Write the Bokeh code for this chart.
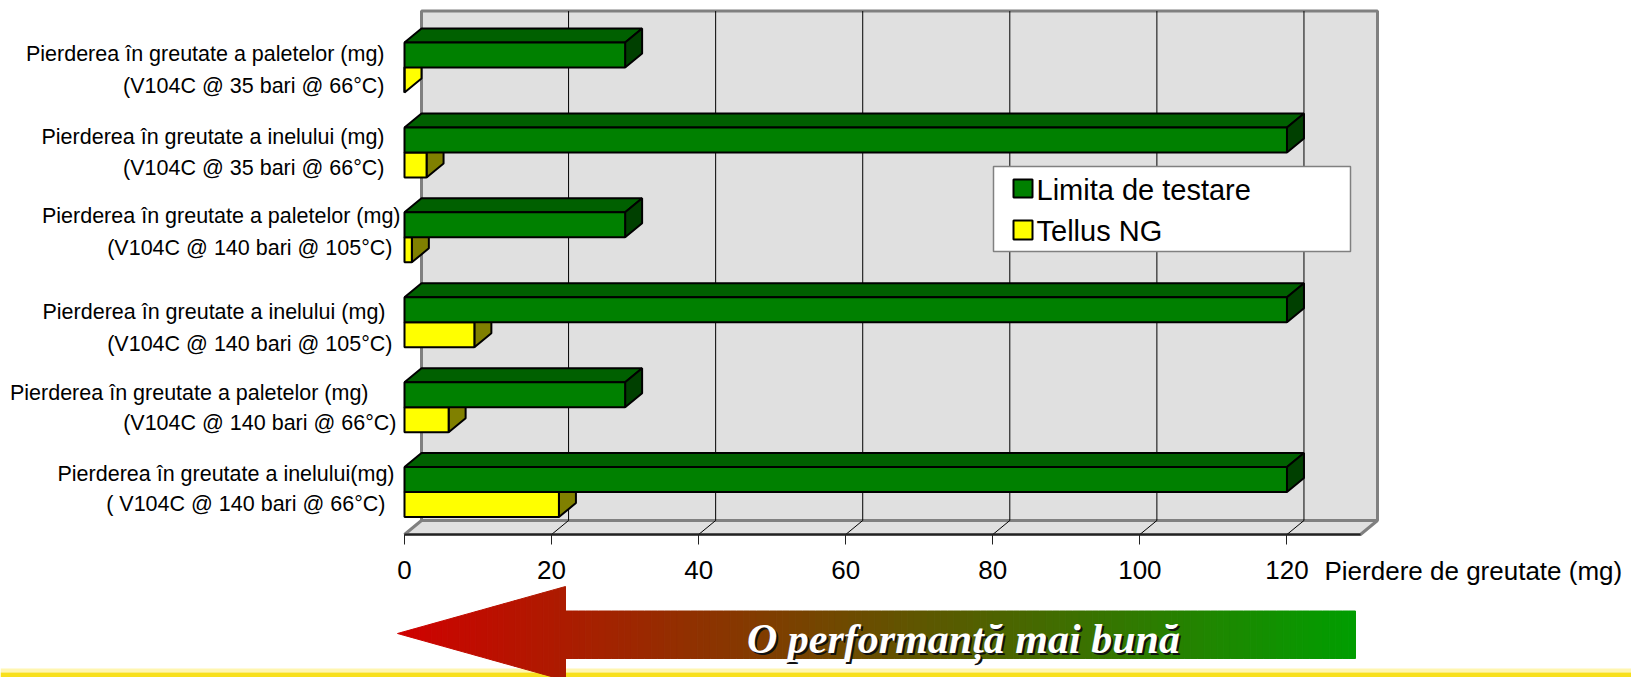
import numpy as np
from bokeh.plotting import figure
from bokeh.models import Range1d, FixedTicker
from bokeh.embed import file_html
from bokeh.resources import INLINE
from bokeh.core.properties import value

# ---------------- data ----------------
label_line1 = [
    "Pierderea în greutate a paletelor (mg)",
    "Pierderea în greutate a inelului (mg)",
    "Pierderea în greutate a paletelor (mg)",
    "Pierderea în greutate a inelului (mg)",
    "Pierderea în greutate a paletelor (mg)",
    "Pierderea în greutate a inelului(mg)",
]
label_line2 = [
    "(V104C @ 35 bari @ 66°C)",
    "(V104C @ 35 bari @ 66°C)",
    "(V104C @ 140 bari @ 105°C)",
    "(V104C @ 140 bari @ 105°C)",
    "(V104C @ 140 bari @ 66°C)",
    "( V104C @ 140 bari @ 66°C)",
]
limita = [30, 120, 30, 120, 30, 120]
tellus = [0, 3, 1, 9.5, 6, 21]
series_names = ["Limita de testare", "Tellus NG"]
x_ticks = [0, 20, 40, 60, 80, 100, 120]
x_max = 130
x_axis_title = "Pierdere de greutate (mg)"
arrow_text = "O performanță mai bună"

# ---------------- layout (pixels on the page) ----------------
W, H = 1631, 677
X0, X130, XR = 404, 1360, 1377      # x=0, x=130 front, wall right
YB = 534                             # front axis (y=0)
PPX = (X130 - X0) / x_max
PPY = 84.9
DXu = (XR - X130) / PPX
DYu = 14 / PPY
BH = 25 / PPY

def dx(X):
    return (X - X0) / PPX

def dy(Y):
    return (YB - Y) / PPY

# label layout tweaks (pixel offsets from category centre / right edges)
l1_off = [-14, -15, -21, -10, -14, -18]
l2_off = [18, 16, 11, 22, 16, 12]
l1_right = [384, 384, 400, 385, 368, 394]
l2_right = [384, 384, 392, 392, 396, 385]

FONT = "Liberation Sans"

p = figure(width=W, height=H, x_range=Range1d(dx(0), dx(W)), y_range=Range1d(dy(H), dy(0)),
           output_backend="svg", toolbar_location=None, title=None,
           min_border=0, min_border_left=0, min_border_right=0,
           min_border_top=0, min_border_bottom=0)
p.outline_line_color = None
p.grid.visible = False
p.yaxis.visible = False

ax = p.xaxis[0]
ax.fixed_location = 0
ax.ticker = FixedTicker(ticks=x_ticks)
ax.bounds = (0, x_max)
ax.axis_line_color = "#222222"
ax.axis_line_width = 2
ax.major_tick_out = 10
ax.major_tick_in = 0
ax.major_tick_line_color = "#222222"
ax.minor_tick_line_color = None
ax.major_label_text_font = FONT
ax.major_label_text_font_size = "26px"
ax.major_label_text_color = "black"
ax.major_label_standoff = 16

# bottom yellow band
p.quad(left=[dx(0)] * 2, right=[dx(W)] * 2, top=[dy(668), dy(672)], bottom=[dy(672), dy(H + 2)],
       fill_color=["#FFF6B0", "#F8E01C"], line_color=None)

# wall and floor
p.patch([DXu, x_max + DXu, x_max + DXu, DXu], [DYu, DYu, 6 + DYu, 6 + DYu],
        fill_color="#E0E0E0", line_color="#808080", line_width=3)
p.patch([0, x_max, x_max + DXu, DXu], [0, 0, DYu, DYu],
        fill_color="#E0E0E0", line_color="#808080", line_width=3)
gx = [t + DXu for t in x_ticks[1:]]
p.segment(x0=gx, y0=[DYu] * len(gx), x1=gx, y1=[6 + DYu] * len(gx),
          line_color="black", line_width=1)
p.segment(x0=x_ticks[1:], y0=[0] * len(gx), x1=gx, y1=[DYu] * len(gx),
          line_color="black", line_width=1)

n = len(limita)
bounds_y = [n - 0.5 - i for i in range(n)]

def draw_bars(vals, y0s, front, topc, side):
    fx, fy, tx, ty, sx, sy, scol = [], [], [], [], [], [], []
    for v, y0 in zip(vals, y0s):
        y1 = y0 + BH
        fx.append([0, v, v, 0]); fy.append([y0, y0, y1, y1])
        tx.append([0, v, v + DXu, DXu]); ty.append([y1, y1, y1 + DYu, y1 + DYu])
        sx.append([v, v + DXu, v + DXu, v]); sy.append([y0, y0 + DYu, y1 + DYu, y1])
        scol.append(front if v == 0 else side)
    p.patches(tx, ty, fill_color=topc, line_color="black", line_width=2)
    p.patches(sx, sy, fill_color=scol, line_color="black", line_width=2)
    return p.patches(fx, fy, fill_color=front, line_color="black", line_width=2)

draw_bars(tellus, [b - BH for b in bounds_y], "#FFFF00", "#FFFF00", "#808000")
draw_bars(limita, bounds_y, "#008000", "#006000", "#004000")

# category labels
p.text(x=[dx(X) for X in l1_right] + [dx(X) for X in l2_right],
       y=[b - o / PPY for b, o in zip(bounds_y, l1_off)] + [b - o / PPY for b, o in zip(bounds_y, l2_off)],
       text=label_line1 + label_line2, text_align="right", text_baseline="middle",
       text_font=value(FONT), text_font_size="21.5px", text_color="black")

# axis title
p.text(x=[dx(1324)], y=[dy(570.5)], text=[x_axis_title], text_baseline="middle",
       text_align="left", text_font=value(FONT), text_font_size="26px", text_color="black")

# legend (box)
p.quad(left=[dx(993)], right=[dx(1350)], top=[dy(166)], bottom=[dy(251)],
       fill_color="white", line_color="#808080", line_width=1.5)
leg_colors = ["#008000", "#FFFF00"]
p.quad(left=[dx(1013)] * 2, right=[dx(1032)] * 2, top=[dy(179), dy(220)],
       bottom=[dy(197), dy(239)], fill_color=leg_colors, line_color="black", line_width=2)
p.text(x=[dx(1036)] * 2, y=[dy(189), dy(230.5)], text=series_names,
       text_baseline="middle", text_align="left", text_font=value(FONT),
       text_font_size="29px", text_color="black")

# ---------------- arrow "better performance" ----------------
tipX, tipY = 397, 633
headX, half = 565, 47
endX = 1355
shaft_t, shaft_b = 610.5, 658
c0 = np.array([208, 0, 0]); c1 = np.array([0, 158, 0])

def col(xm):
    t = (xm - tipX) / (endX - tipX)
    c = (1 - t) * c0 + t * c1
    return "#%02x%02x%02x" % tuple(int(round(v)) for v in c)

xs, ys, cs = [], [], []
edges = np.linspace(tipX, headX, 31)
for a, b in zip(edges[:-1], edges[1:]):
    ha = half * (a - tipX) / (headX - tipX)
    hb = half * (b - tipX) / (headX - tipX)
    xs.append([dx(a), dx(b), dx(b), dx(a)])
    ys.append([dy(tipY - ha), dy(tipY - hb), dy(tipY + hb), dy(tipY + ha)])
    cs.append(col((a + b) / 2))
edges = np.linspace(headX, endX, 121)
for a, b in zip(edges[:-1], edges[1:]):
    xs.append([dx(a), dx(b), dx(b), dx(a)])
    ys.append([dy(shaft_t), dy(shaft_t), dy(shaft_b), dy(shaft_b)])
    cs.append(col((a + b) / 2))
p.patches(xs, ys, fill_color=cs, line_color=cs, line_width=1)

tX, tY = 746.5, 638.5
for off, c in [(2, "#111111"), (0, "white")]:
    p.text(x=[dx(tX + off)], y=[dy(tY + off)], text=[arrow_text], text_baseline="middle",
           text_align="left", text_font=value("Liberation Serif"),
           text_font_style="bold italic", text_font_size="42px", text_color=c)

open("out.html", "w").write(file_html(p, INLINE))
